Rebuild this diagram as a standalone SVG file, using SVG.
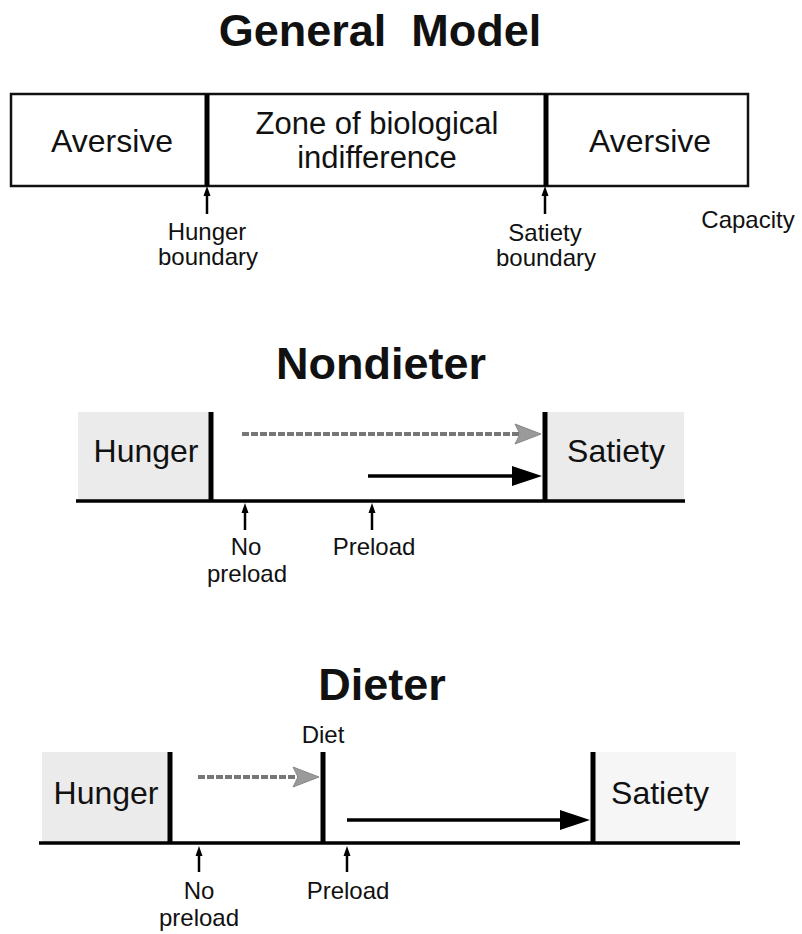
<svg xmlns="http://www.w3.org/2000/svg" width="802" height="934" viewBox="0 0 802 934">
<style>
  text { font-family: "Liberation Sans", Arial, sans-serif; fill: #111; text-anchor: middle; }
  .title { font-size: 45px; font-weight: bold; white-space: pre; }
  .big { font-size: 32px; }
  .zone { font-size: 31px; }
  .small { font-size: 24px; }
  .thick { stroke: #000; stroke-width: 5; fill: none; }
  .base { stroke: #000; stroke-width: 3.5; fill: none; }
  .box { stroke: #111; stroke-width: 2.5; fill: #fff; }
  .shade { fill: #ebebeb; }
  .shade2 { fill: #f6f6f6; }
  .tick { stroke: #000; stroke-width: 2.5; fill: none; }
  .gray { stroke: #777; stroke-width: 4; stroke-dasharray: 7 2; fill: none; }
  .black { stroke: #000; stroke-width: 3.5; fill: none; }
</style>
<rect width="802" height="934" fill="#fff"/>

<!-- General Model -->
<g id="general-title"><text class="title" x="380" y="46" xml:space="preserve">General  Model</text></g>
<g id="general-box">
  <rect class="box" x="11" y="94" width="737" height="92"/>
  <line class="thick" x1="207" y1="94" x2="207" y2="186"/>
  <line class="thick" x1="546" y1="94" x2="546" y2="186"/>
</g>
<g id="aversive-left"><text class="big" x="112" y="152">Aversive</text></g>
<g id="zone"><text class="zone" x="377" y="134">Zone of biological</text><text class="zone" x="377" y="168">indifference</text></g>
<g id="aversive-right"><text class="big" x="650" y="152">Aversive</text></g>
<g id="hunger-boundary"><text class="small" x="207" y="240">Hunger</text><text class="small" x="208" y="265">boundary</text></g>
<g id="satiety-boundary"><text class="small" x="545" y="241">Satiety</text><text class="small" x="546" y="266">boundary</text></g>
<g id="capacity"><text class="small" x="748" y="228">Capacity</text></g>

<!-- Nondieter -->
<g id="nondieter-title"><text class="title" x="381" y="379">Nondieter</text></g>
<g id="nondieter-hunger">
  <rect class="shade" x="78" y="412" width="133" height="89"/>
  <line class="thick" x1="211" y1="412" x2="211" y2="501"/>
  <text class="big" x="146" y="462">Hunger</text>
</g>
<g id="nondieter-satiety">
  <rect class="shade" x="545" y="412" width="139" height="89"/>
  <line class="thick" x1="545" y1="412" x2="545" y2="501"/>
  <text class="big" x="616" y="462">Satiety</text>
</g>
<g id="nondieter-axis"><line class="base" x1="76" y1="501" x2="685" y2="501"/></g>
<g id="nondieter-nopreload"><text class="small" x="246" y="555">No</text><text class="small" x="247" y="582">preload</text></g>
<g id="nondieter-preload"><text class="small" x="374" y="555">Preload</text></g>

<!-- Dieter -->
<g id="dieter-title"><text class="title" x="382" y="700">Dieter</text></g>
<g id="dieter-hunger">
  <rect class="shade" x="42" y="752" width="128" height="91"/>
  <line class="thick" x1="170" y1="752" x2="170" y2="843"/>
  <text class="big" x="106" y="804">Hunger</text>
</g>
<g id="dieter-diet">
  <line class="thick" x1="323" y1="752" x2="323" y2="843"/>
  <text class="small" x="323" y="743">Diet</text>
</g>
<g id="dieter-satiety">
  <rect class="shade2" x="594" y="752" width="142" height="91"/>
  <line class="thick" x1="593" y1="752" x2="593" y2="843"/>
  <text class="big" x="660" y="804">Satiety</text>
</g>
<g id="dieter-axis"><line class="base" x1="39" y1="843" x2="740" y2="843"/></g>
<g id="dieter-nopreload"><text class="small" x="199" y="899">No</text><text class="small" x="199" y="926">preload</text></g>
<g id="dieter-preload"><text class="small" x="348" y="899">Preload</text></g>

<!-- Connectors -->
<g id="connectors">
  <line class="tick" x1="207" y1="214" x2="207" y2="192"/>
  <polygon points="207,186 203.5,196 210.5,196" fill="#000"/>
  <line class="tick" x1="545" y1="214" x2="545" y2="192"/>
  <polygon points="545,186 541.5,196 548.5,196" fill="#000"/>
  <line class="tick" x1="245" y1="530" x2="245" y2="508"/>
  <polygon points="245,503 241.5,513 248.5,513" fill="#000"/>
  <line class="tick" x1="372" y1="530" x2="372" y2="508"/>
  <polygon points="372,503 368.5,513 375.5,513" fill="#000"/>
  <line class="gray" x1="242" y1="434" x2="520" y2="434"/>
  <polygon points="541,434 515,424 520,434 515,444" fill="#9a9a9a" stroke="#888" stroke-width="1"/>
  <line class="black" x1="368" y1="476" x2="516" y2="476"/>
  <polygon points="542,476 512,466 512,486" fill="#000"/>
  <line class="tick" x1="199" y1="872" x2="199" y2="851"/>
  <polygon points="199,846 195.5,856 202.5,856" fill="#000"/>
  <line class="tick" x1="347" y1="872" x2="347" y2="851"/>
  <polygon points="347,846 343.5,856 350.5,856" fill="#000"/>
  <line class="gray" x1="198" y1="777" x2="298" y2="777"/>
  <polygon points="319,777 293,767 298,777 293,787" fill="#9a9a9a" stroke="#888" stroke-width="1"/>
  <line class="black" x1="347" y1="820" x2="564" y2="820"/>
  <polygon points="590,820 560,810 560,830" fill="#000"/>
</g>
</svg>
